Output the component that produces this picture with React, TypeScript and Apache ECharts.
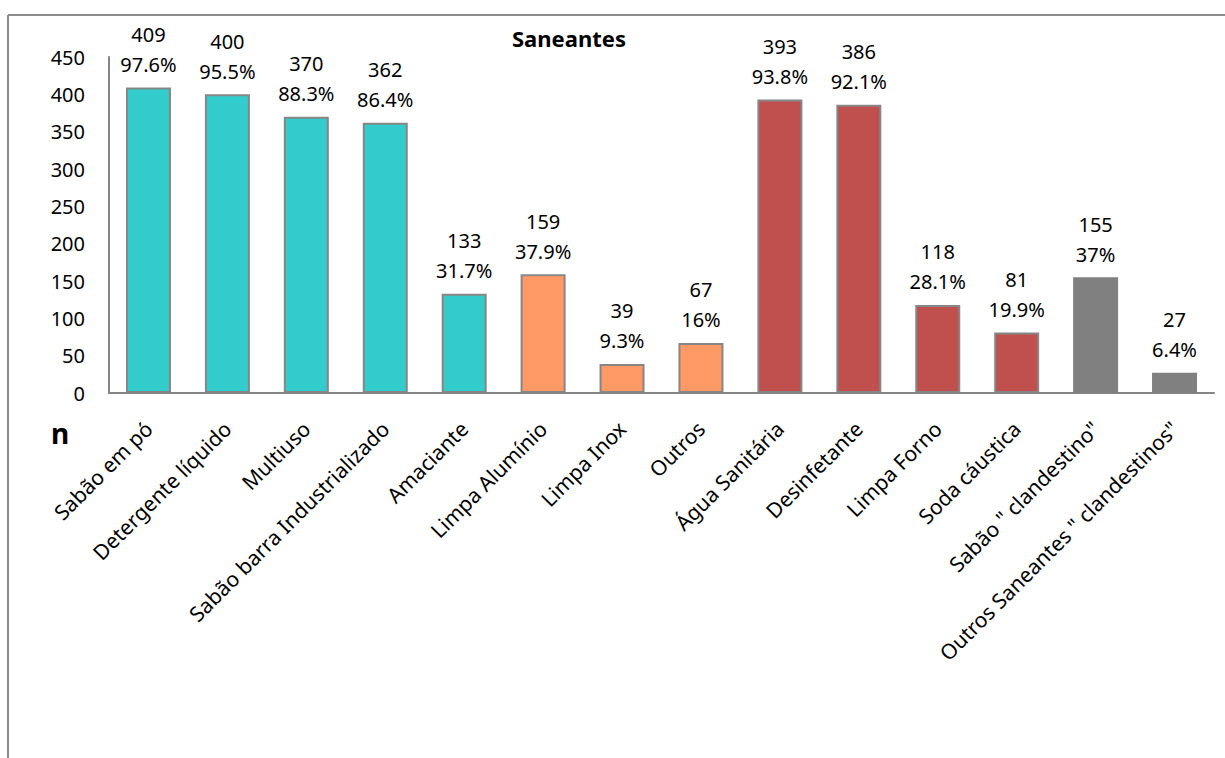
import React, { useEffect, useRef } from "react";
import * as echarts from "echarts";

const categories = [
  "Sabão em pó",
  "Detergente líquido",
  "Multiuso",
  "Sabão barra Industrializado",
  "Amaciante",
  "Limpa Alumínio",
  "Limpa Inox",
  "Outros",
  "Água Sanitária",
  "Desinfetante",
  "Limpa Forno",
  "Soda cáustica",
  'Sabão " clandestino"',
  'Outros Saneantes " clandestinos"',
];
const counts = [409, 400, 370, 362, 133, 159, 39, 67, 393, 386, 118, 81, 155, 27];
const percents = ["97.6%", "95.5%", "88.3%", "86.4%", "31.7%", "37.9%", "9.3%", "16%", "93.8%", "92.1%", "28.1%", "19.9%", "37%", "6.4%"];
const groups = ["teal", "teal", "teal", "teal", "teal", "orange", "orange", "orange", "red", "red", "red", "red", "gray", "gray"];
const yTicks = [0, 50, 100, 150, 200, 250, 300, 350, 400, 450];

const groupColors: Record<string, string> = {
  teal: "#33CCCC",
  orange: "#FF9966",
  red: "#C0504D",
  gray: "#808080",
};

const FONT = "'Noto Sans', 'Open Sans', sans-serif";

export default function App() {
  const ref = useRef<HTMLDivElement>(null);
  useEffect(() => {
    if (!ref.current) return;
    const chart = echarts.init(ref.current, undefined, { renderer: "svg" });
    chart.setOption({
      animation: false,
      backgroundColor: "#ffffff",
      textStyle: { fontFamily: FONT },
      title: {
        text: "Saneantes",
        left: 507,
        top: 22,
        textStyle: { fontFamily: FONT, fontSize: 22, fontWeight: "bold", color: "#000" },
      },
      grid: { left: 109, right: 11, top: 57, height: 336, containLabel: false },
      xAxis: {
        type: "category",
        data: categories,
        axisLine: { lineStyle: { color: "#868686", width: 2 } },
        axisTick: { show: false },
        axisLabel: {
          interval: 0,
          rotate: 45,
          margin: 32,
          fontSize: 21,
          color: "#000",
          fontFamily: FONT,
        },
      },
      yAxis: {
        type: "value",
        min: 0,
        max: 450,
        interval: 50,
        splitLine: { show: false },
        axisLine: { show: true, lineStyle: { color: "#868686", width: 2 } },
        axisTick: { show: false },
        axisLabel: {
          fontSize: 20,
          color: "#000",
          margin: 24,
          fontFamily: FONT,
          formatter: (v: number) => (yTicks.includes(v) ? String(v) : ""),
        },
      },
      series: [
        {
          type: "bar",
          barWidth: "57%",
          data: counts.map((v, i) => ({
            value: v,
            itemStyle: {
              color: groupColors[groups[i]],
              borderColor: groups[i] === "gray" ? "#808080" : "#868686",
              borderWidth: 2,
            },
          })),
          label: {
            show: true,
            position: "top",
            distance: 8,
            fontSize: 20,
            lineHeight: 30,
            color: "#000",
            fontFamily: FONT,
            formatter: (p: any) => `${counts[p.dataIndex]}\n${percents[p.dataIndex]}`,
          },
        },
      ],
      graphic: [
        {
          type: "line",
          shape: { x1: 8, y1: 15, x2: 1225, y2: 15 },
          style: { stroke: "#8c8c8c", lineWidth: 2 },
        },
        {
          type: "line",
          shape: { x1: 8, y1: 15, x2: 8, y2: 758 },
          style: { stroke: "#8c8c8c", lineWidth: 2 },
        },
        {
          type: "text",
          x: 51,
          y: 433,
          style: {
            text: "n",
            fontSize: 28,
            fontWeight: "bold",
            fill: "#000",
            fontFamily: FONT,
            verticalAlign: "middle",
          },
        },
      ],
    });
    return () => chart.dispose();
  }, []);
  return (
    <div
      ref={ref}
      style={{ position: "absolute", left: 0, top: 0, width: 1225, height: 758 }}
    />
  );
}
